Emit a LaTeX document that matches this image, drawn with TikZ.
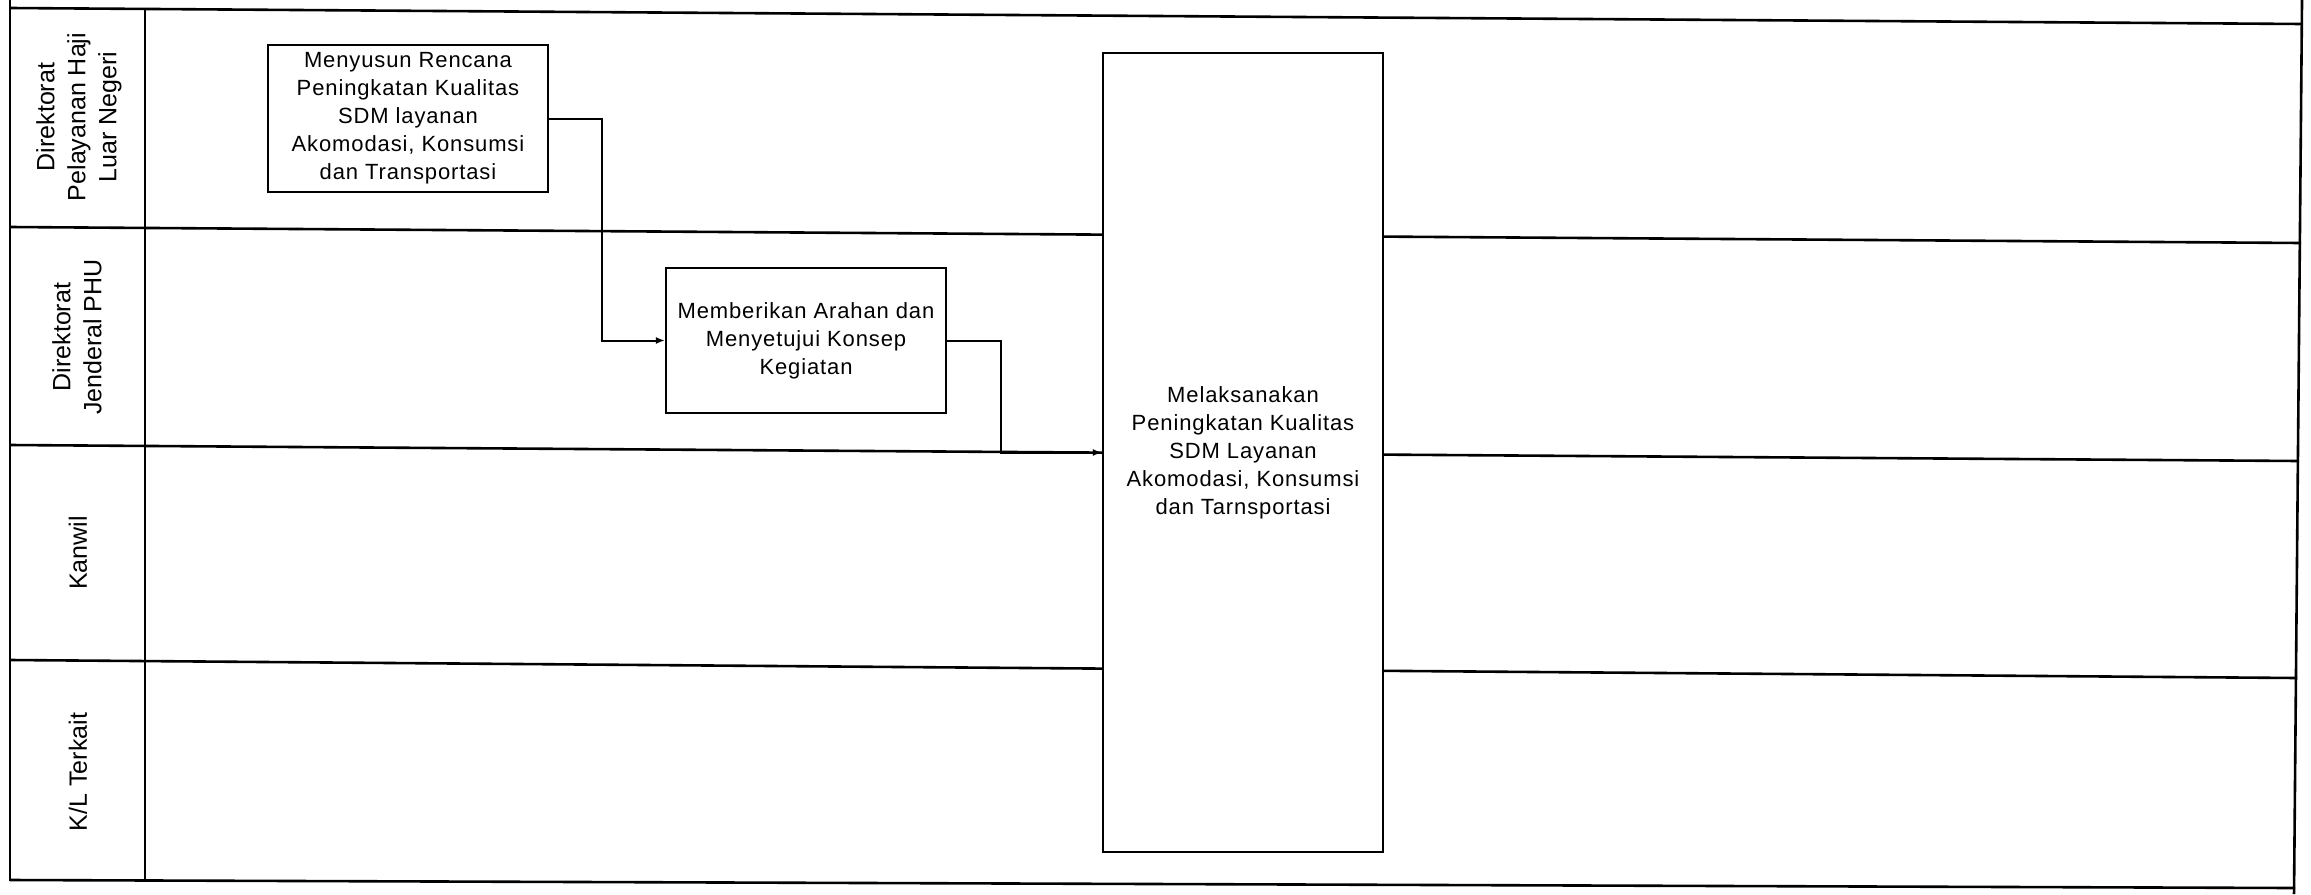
\documentclass[tikz,border=0pt]{standalone}
\usepackage{fontspec}
\setmainfont{Liberation Sans}
\newfontfamily\boxfont[LetterSpace=4]{Liberation Sans}
\usetikzlibrary{arrows.meta,calc}
\tikzset{
  laneline/.style={line width=1.3pt, black},
  task/.style={draw, line width=1.1pt, fill=white, minimum width=140pt, align=center, inner sep=0pt,
    font=\boxfont\fontsize{11}{14}\selectfont},
  lanelabel/.style={rotate=90, align=center, inner sep=0pt, font=\fontsize{12.5}{15.5}\selectfont},
  flow/.style={line width=1pt, -{Latex[length=4.5pt,width=3.5pt]}},
}
\begin{document}
\begin{tikzpicture}[x=0.5pt,y=-0.5pt]
\useasboundingbox (0,0) rectangle (2311,894);
% frame and lanes
\draw[laneline] (10,0) -- (10,881);
\draw[laneline] (145,8) -- (145,881);
\draw[laneline] (2302,0) -- (2294,894);
\draw[laneline] (10,8) -- (2302,24);
\draw[laneline] (10,227) -- (2301,243);
\draw[laneline] (10,445) -- (2299,461);
\draw[laneline] (10,660) -- (2297,678);
\draw[laneline] (10,880) -- (2295,888);
% lane labels
\node[lanelabel] (l1) at (79,117) {Direktorat\\Pelayanan Haji\\Luar Negeri};
\node[lanelabel] (l2) at (77,337) {Direktorat\\Jenderal PHU};
\node[lanelabel] (l3) at (78,553) {Kanwil};
\node[lanelabel] (l4) at (78,772) {K/L Terkait};
% tasks
\node[task, minimum height=73.5pt] (b1) at (408,118.5)
  {Menyusun Rencana\\Peningkatan Kualitas\\SDM layanan\\Akomodasi, Konsumsi\\dan Transportasi};
\node[task, minimum height=72.5pt] (b2) at (806,340.5)
  {Memberikan Arahan dan\\Menyetujui Konsep\\Kegiatan};
\node[task, minimum height=399.5pt] (b3) at (1243,452.5)
  {Melaksanakan\\Peningkatan Kualitas\\SDM Layanan\\Akomodasi, Konsumsi\\dan Tarnsportasi};
% connectors
\draw[flow] (b1.east) -- ([xshift=26.5pt]b1.east) |- (b2.west);
\draw[flow] (b2.east) -- ([xshift=27pt]b2.east) |- (b3.west);
\end{tikzpicture}
\end{document}
